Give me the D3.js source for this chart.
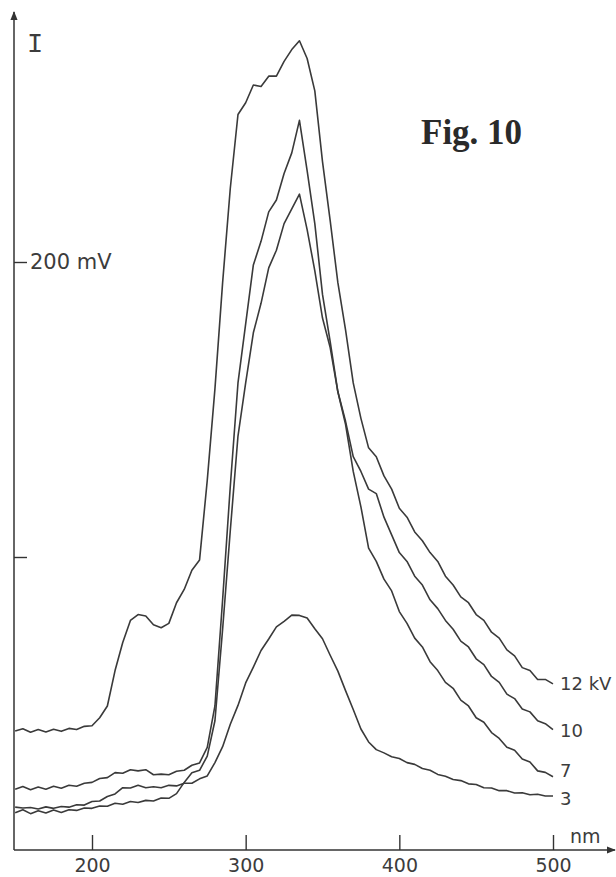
<!DOCTYPE html>
<html>
<head>
<meta charset="utf-8">
<script src="https://cdn.jsdelivr.net/npm/d3@7/dist/d3.min.js"></script>
<style>
  html, body { margin: 0; padding: 0; background: #fff; }
  svg { display: block; }
  .lbl { font-family: "DejaVu Sans", sans-serif; fill: #3c3c3c; }
</style>
</head>
<body>
<svg id="chart" width="616" height="877"></svg>
<script>
/************************************ Data *******************************/
var wavelengths = [150,155,160,165,170,175,180,185,190,195,
  200,205,210,215,220,225,230,235,240,245,
  250,255,260,265,270,275,280,285,290,295,
  300,305,310,315,320,325,330,335,340,345,
  350,355,360,365,370,375,380,385,390,395,
  400,405,410,415,420,425,430,435,440,445,
  450,455,460,465,470,475,480,485,490,495,
  500];

var kv12 = [41,41.8,40.6,41.5,40.7,41.6,40.9,41.9,41.5,42.6,
  42.8,45.5,49.5,61.5,71,78.5,80.5,80,77,76,
  77.5,84.5,89,95.5,99,126,157,193,225,250,
  254,260,259.5,263,263,268,272,275,269,258,
  234,214,193,177,159,147,137,134,127.5,123,
  116.5,113.5,108.5,105.5,101.5,98.5,93.5,90.5,86.5,84.5,
  80.5,78.5,74.5,72.5,68.5,66.5,62.5,61.5,58.5,58.5,
  57];

var kv10 = [21.3,22.2,21.1,22,21.3,22.3,21.6,22.6,22.3,23.3,
  23.6,24.9,25.2,26.9,26.7,27.9,27.5,27.9,26.2,26.4,
  26.2,27.4,27.7,29.4,30.2,35.5,49.5,85.5,124,159,
  179,199,207,217,221,230,237,248,231,213,
  189,173,156,146,134,129,123,121.5,113.5,107.5,
  101.5,98.5,93.5,90.5,85.5,82.5,78.5,75.5,71.5,69.5,
  65.5,63.5,59.5,57.5,53.5,52,48.5,47.5,44.5,43.5,
  41.5];

var kv7 = [13.3,14.3,13,14,13.2,14.2,13.4,14.3,14.1,14.9,
  14.8,15.6,15.5,16.5,16.2,17.1,16.8,17.5,17.3,18.3,
  18.2,19.8,23.6,26.9,27.7,32.5,44.5,75.5,109,141,
  159,176,186,198,204,213,218,223,211,197,
  181,171,156,145,129,117,103,98.5,92.5,88.5,
  81.5,77.5,72.5,69.5,64.5,61.5,57.5,55.5,51.5,49.5,
  45.5,44,40.5,38.5,35.5,34.5,31.5,30.5,27.5,27,
  25.5];

var kv3 = [15.2,14.9,15.1,14.6,15.3,14.8,15.4,15.2,16,15.9,
  17.1,17.3,18.8,19.7,21.8,21.7,22.6,21.8,22.1,21.8,
  22.6,22.4,23.3,23.3,24.8,25.8,30.3,35.7,43.3,49.7,
  57.3,62.7,68.3,72.2,76.3,78.2,80.3,80.2,79.3,75.7,
  72.3,66.7,61.3,54.7,48.3,41.7,37.3,34.7,33.6,32.3,
  31.7,30.3,29.7,28.3,27.7,26.3,25.7,24.6,24.2,23.1,
  22.9,21.8,21.7,20.8,20.8,20,20.1,19.4,19.6,19,
  19];

var seriesNames = ["12 kV", "10", "7", "3"];
var seriesValues = [kv12, kv10, kv7, kv3];
var xTicks = [200, 300, 400, 500];
var yTicks = [100, 200];

/************************************ Scales *******************************/
var svg = d3.select("#chart");

var x = d3.scaleLinear().domain([200, 500]).range([92, 553]);
var y = d3.scaleLinear().domain([0, 200]).range([852, 262]);

var x0 = 14, yAxisPos = 850;
// vertical nudge of each end label against the end of its curve
var labelShift = [6, 7.5, 0, 9];

/************************************ Axes *******************************/
var defs = svg.append("defs");
defs.append("marker")
    .attr("id", "arr")
    .attr("viewBox", "0 0 10 10")
    .attr("refX", 9).attr("refY", 5)
    .attr("markerWidth", 6).attr("markerHeight", 6)
    .attr("orient", "auto")
  .append("path")
    .attr("d", "M0,1 L10,5 L0,9 z")
    .style("fill", "#333");

var xAxis = d3.axisBottom(x)
    .tickValues(xTicks)
    .tickSizeInner(-15)
    .tickSizeOuter(0)
    .tickFormat(d3.format("d"));

var gx = svg.append("g")
    .attr("transform", "translate(0," + yAxisPos + ")")
    .call(xAxis);
gx.select(".domain").remove();
gx.selectAll(".tick line").style("stroke", "#333").style("stroke-width", 1.4);
// baseline kept a little above the bottom edge so the labels stay whole
gx.selectAll(".tick text")
    .attr("class", "lbl")
    .attr("y", 22)
    .attr("dy", 0)
    .style("font-size", "19px")
    .style("font-family", "DejaVu Sans, sans-serif")
    .style("fill", "#3c3c3c");

svg.append("line")
    .attr("x1", x0).attr("y1", yAxisPos)
    .attr("x2", 615).attr("y2", yAxisPos)
    .attr("marker-end", "url(#arr)")
    .style("stroke", "#333").style("stroke-width", 1.5);

svg.append("line")
    .attr("x1", x0).attr("y1", yAxisPos)
    .attr("x2", x0).attr("y2", 12)
    .attr("marker-end", "url(#arr)")
    .style("stroke", "#333").style("stroke-width", 1.5);

var yAxis = d3.axisRight(y)
    .tickValues(yTicks)
    .tickSizeInner(13)
    .tickSizeOuter(0)
    .tickFormat("");

var gy = svg.append("g")
    .attr("transform", "translate(" + x0 + ",0)")
    .call(yAxis);
gy.select(".domain").remove();
gy.selectAll(".tick line").style("stroke", "#333").style("stroke-width", 1.4);

svg.append("text")
    .attr("class", "lbl")
    .attr("x", 30).attr("y", y(200) + 7)
    .style("font-size", "21px")
    .text("200 mV");

svg.append("text")
    .attr("class", "lbl")
    .attr("x", 570).attr("y", 843)
    .style("font-size", "19px")
    .text("nm");

svg.append("text")
    .attr("x", 27).attr("y", 52)
    .style("font-family", "Liberation Mono, monospace")
    .style("font-size", "27px")
    .style("fill", "#3c3c3c")
    .text("I");

svg.append("text")
    .attr("x", 421).attr("y", 144)
    .style("font-family", "Liberation Serif, serif")
    .style("font-weight", "bold")
    .style("font-size", "35px")
    .style("fill", "#2a2a2a")
    .text("Fig. 10");

/************************************ Curves *******************************/
var line = d3.line()
    .x(function(d, i) { return x(wavelengths[i]); })
    .y(function(d) { return y(d); });

svg.selectAll("path.curve")
    .data(seriesValues)
    .enter().append("path")
    .attr("class", "curve")
    .attr("d", line)
    .style("fill", "none")
    .style("stroke", "#3a3a3a")
    .style("stroke-width", 1.6)
    .style("stroke-linejoin", "round");

svg.selectAll("text.kv")
    .data(seriesValues)
    .enter().append("text")
    .attr("class", "lbl kv")
    .attr("x", 560)
    .attr("y", function(d, i) { return y(d[d.length - 1]) + labelShift[i]; })
    .style("font-size", "18px")
    .text(function(d, i) { return seriesNames[i]; });
</script>
</body>
</html>
